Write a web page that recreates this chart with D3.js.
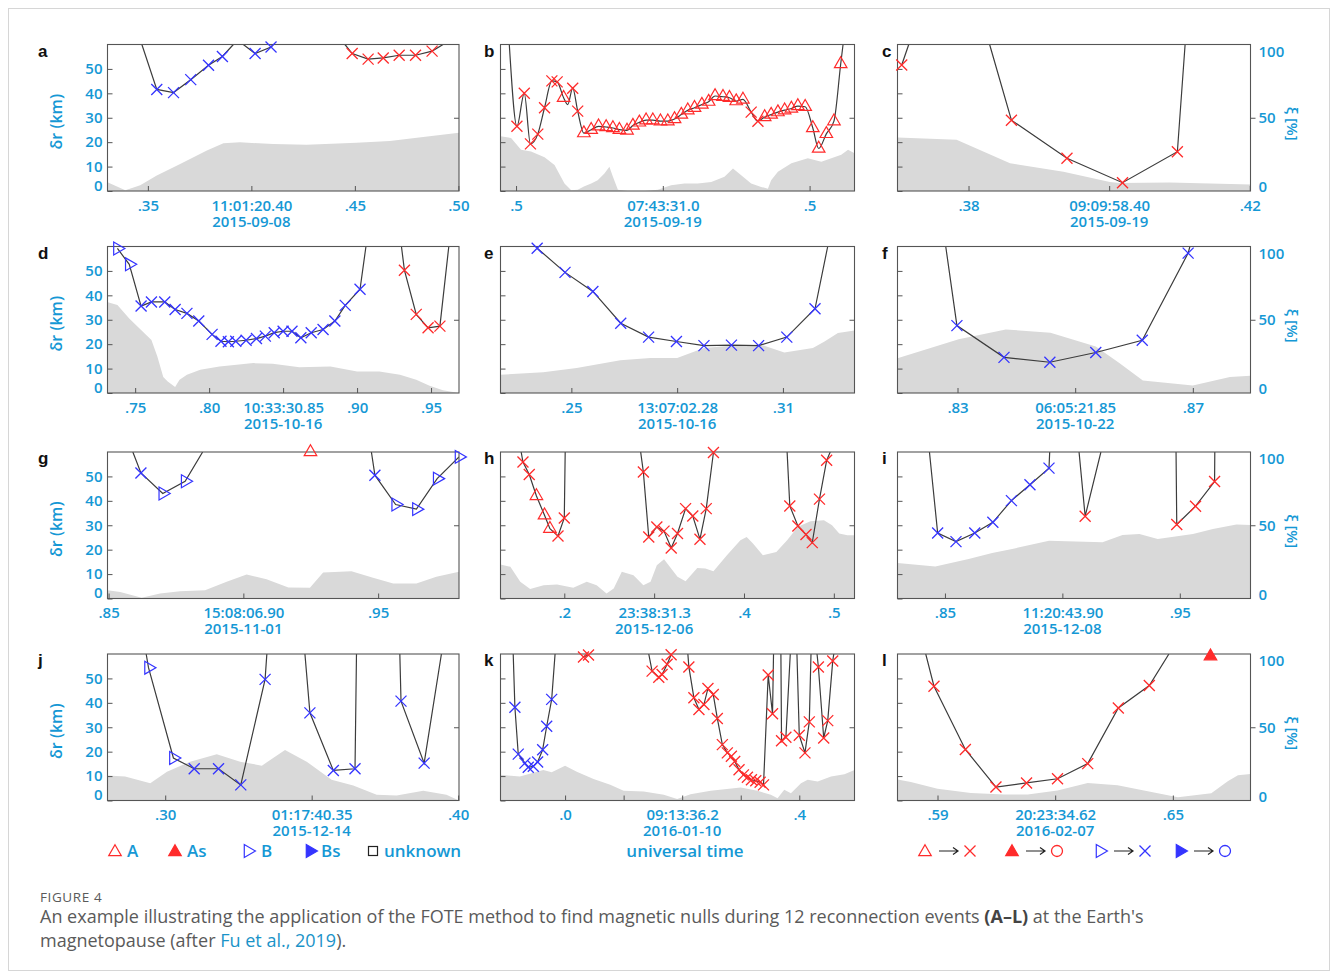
<!DOCTYPE html>
<html><head><meta charset="utf-8">
<script src="https://cdn.jsdelivr.net/npm/d3@7"></script>
<style>body{margin:0;background:#fff}svg{display:block}</style>
</head><body><svg id="c" width="1331" height="974"></svg>
<script>
// ---------------- DATA ----------------
// each line point: [time (s), δr (km), marker]; ξ area: [time (s), ξ (%)]
const aDomain=[0.3305,0.5003], aTicks=[0.35,0.40,0.45,0.50], aTickText=[".35","11:01:20.40",".45",".50"], aDate="2015-09-08";
const aLines=[
 [[0.3471,60,""],[0.3543,41.6,"bx"],[0.3624,40.3,"bx"],[0.3707,45.6,"bx"],[0.3793,51.5,"bx"],[0.3860,55.1,"bx"],[0.3913,60,""]],
 [[0.3961,60,""],[0.4018,56.3,"bx"],[0.4095,59.0,"bx"],[0.4106,60,""]],
 [[0.4452,60,""],[0.4487,56.3,"rx"],[0.4564,54.0,"rx"],[0.4637,54.5,"rx"],[0.4714,55.6,"rx"],[0.4793,55.6,"rx"],[0.4873,57.3,"rx"],[0.4926,60,""]]];
const aXi=[[0.3305,6],[0.3391,0.5],[0.3463,4],[0.3543,10.5],[0.3656,18.5],[0.3785,27.6],[0.3865,32.6],[0.3945,33.3],[0.4106,32],[0.4267,31.5],[0.4508,32.9],[0.4669,34.2],[0.4830,36.8],[0.5003,39.7]];

const bDomain=[30.447,31.653], bTicks=[30.5,31.0,31.5], bTickText=[".5","07:43:31.0",".5"], bDate="2015-09-19";
const bLines=[[[30.477,60,""],[30.503,26.5,"rx"],[30.528,40.0,"rx"],[30.549,19.3,"rx"],[30.574,23.3,"rx"],[30.597,34.1,"rx"],[30.622,45.1,"rx"],[30.640,44.7,"rx"],[30.662,38.2,"A"],[30.676,35.4,""],[30.693,42.1,"rx"],[30.710,32.7,"rx"],[30.731,23.7,"A"],[30.756,25.1,"A"],[30.781,26.5,"A"],[30.807,26.2,"A"],[30.830,25.8,"A"],[30.852,25.1,"A"],[30.878,24.8,"A"],[30.898,26.8,"A"],[30.920,28.1,"A"],[30.943,29.0,"A"],[30.966,29.0,"A"],[30.992,28.6,"A"],[31.017,28.6,"A"],[31.040,29.5,"A"],[31.063,31.3,"A"],[31.085,33.1,"A"],[31.108,34.1,"A"],[31.133,35.4,"A"],[31.156,36.6,"A"],[31.178,38.9,"A"],[31.205,38.6,"A"],[31.227,38.2,"A"],[31.250,36.8,"A"],[31.273,37.5,"A"],[31.301,32.3,"rx"],[31.324,28.6,"rx"],[31.347,30.3,"A"],[31.369,31.3,"A"],[31.392,32.3,"A"],[31.415,33.1,"A"],[31.438,33.8,"A"],[31.460,34.8,"A"],[31.485,34.5,"A"],[31.511,25.8,"A"],[31.531,17.4,"A"],[31.557,23.4,"A"],[31.583,28.6,"A"],[31.606,52.0,"A"],[31.614,60,""]]];
const bXi=[[30.447,37.3],[30.483,36.2],[30.517,28.1],[30.551,27.0],[30.597,23.0],[30.631,17.7],[30.665,5.1],[30.688,0.5],[30.710,0.9],[30.733,3.2],[30.756,5.1],[30.778,7.4],[30.801,12.0],[30.818,16.6],[30.830,9.7],[30.847,0.9],[30.881,0],[30.938,0],[30.983,0.9],[31.028,3.9],[31.074,5.1],[31.119,5.1],[31.165,6.2],[31.210,9.7],[31.239,15.4],[31.267,10.8],[31.301,5.1],[31.335,2.8],[31.358,1.6],[31.369,7.4],[31.392,13.1],[31.438,18.9],[31.494,22.4],[31.540,20.0],[31.574,22.4],[31.608,24.7],[31.631,28.1],[31.653,25.8]];

const cDomain=[58.3699,58.4201], cTicks=[58.38,58.40,58.42], cTickText=[".38","09:09:58.40",".42"], cDate="2015-09-19";
const cLines=[[[58.3705,51.6,"rx"],[58.3715,60,""]],
 [[58.3830,60,""],[58.3861,29.0,"rx"],[58.3940,13.4,"rx"],[58.4019,3.4,"rx"],[58.4097,16.1,"rx"],[58.4108,60,""]]];
const cXi=[[58.3699,36.6],[58.3783,35.0],[58.3859,18.9],[58.3935,13.1],[58.4001,6.2],[58.4015,5.5],[58.4086,5.8],[58.4201,4.4]];

const dDomain=[30.7313,30.9689], dTicks=[30.75,30.80,30.85,30.90,30.95], dTickText=[".75",".80","10:33:30.85",".90",".95"], dDate="2015-10-16";
const dLines=[[[30.738,59.2,"B"],[30.746,52.7,"B"],[30.754,35.6,"bx"],[30.761,37.3,"bx"],[30.770,37.3,"bx"],[30.777,34.2,"bx"],[30.785,32.6,"bx"],[30.793,29.5,"bx"],[30.802,24.0,"bx"],[30.808,21.2,"bx"],[30.813,21.0,"bx"],[30.818,21.2,"bx"],[30.825,21.6,"bx"],[30.832,22.3,"bx"],[30.838,23.3,"bx"],[30.844,24.7,"bx"],[30.850,25.3,"bx"],[30.856,25.3,"bx"],[30.862,22.6,"bx"],[30.869,24.7,"bx"],[30.877,26.0,"bx"],[30.885,29.5,"bx"],[30.892,35.9,"bx"],[30.902,42.5,"bx"],[30.906,60,""]],
 [[30.930,60,""],[30.932,50.3,"rx"],[30.940,32.2,"rx"],[30.948,26.7,"rx"],[30.956,27.4,"rx"],[30.962,60,""]]];
const dXi=[[30.731,62.2],[30.738,60.0],[30.746,50.9],[30.754,43.0],[30.761,36.2],[30.765,24.9],[30.769,10.9],[30.772,7.9],[30.777,4.1],[30.780,9.0],[30.785,12.4],[30.794,15.8],[30.807,18.1],[30.830,20.4],[30.843,19.9],[30.861,17.6],[30.882,18.1],[30.900,14.7],[30.915,14.7],[30.929,12.4],[30.940,9.0],[30.949,5.0],[30.958,1.8],[30.969,0]];

const eDomain=[2.2299,2.3303], eTicks=[2.25,2.28,2.31], eTickText=[".25","13:07:02.28",".31"], eDate="2015-10-16";
const eLines=[[[2.2403,59.3,"bx"],[2.2482,49.4,"bx"],[2.2561,41.6,"bx"],[2.2640,28.6,"bx"],[2.2719,22.9,"bx"],[2.2798,21.1,"bx"],[2.2876,19.4,"bx"],[2.2954,19.6,"bx"],[2.3031,19.4,"bx"],[2.3111,22.9,"bx"],[2.3191,34.5,"bx"],[2.3227,60,""]]];
const eXi=[[2.2299,12.5],[2.2420,14.1],[2.2515,17.0],[2.2639,22.3],[2.2724,23.9],[2.2800,23.9],[2.2876,30.7],[2.2952,32.3],[2.3037,33.0],[2.3104,27.7],[2.3185,30.7],[2.3218,35.2],[2.3256,40.9],[2.3303,42.7]];

const fDomain=[21.8198,21.8798], fTicks=[21.83,21.85,21.87], fTickText=[".83","06:05:21.85",".87"], fDate="2015-10-22";
const fLines=[[[21.8280,60,""],[21.8299,27.6,"bx"],[21.8379,14.6,"bx"],[21.8457,12.6,"bx"],[21.8535,16.6,"bx"],[21.8614,21.6,"bx"],[21.8692,57.3,"bx"],[21.8695,60,""]]];
const fXi=[[21.8198,23.8],[21.8302,36.7],[21.8382,43.4],[21.8458,41.2],[21.8535,31.7],[21.8575,20.4],[21.8615,8.6],[21.8700,5.2],[21.8763,10.9],[21.8798,11.8]];

const gDomain=[6.8496,6.98], gTicks=[6.85,6.90,6.95], gTickText=[".85","15:08:06.90",".95"], gDate="2015-11-01";
const gLines=[[[6.8590,60,""],[6.8620,51.4,"bx"],[6.8701,43.0,"B"],[6.8784,48.0,"B"],[6.8849,60,""]],
 [[6.9475,60,""],[6.9488,50.5,"bx"],[6.9565,38.5,"B"],[6.9642,36.6,"B"],[6.9719,49.1,"B"],[6.9800,58.0,"B"]]];
const gSingles=[[6.9249,60,"A"]];
const gXi=[[6.8496,5.7],[6.8543,4.5],[6.8623,0.5],[6.8691,3.4],[6.8765,5.0],[6.8858,5.7],[6.8938,11.4],[6.9012,16.4],[6.9086,13.2],[6.9167,7.5],[6.9247,7.3],[6.9296,17.7],[6.9401,18.6],[6.9481,14.1],[6.9556,10.2],[6.9642,10.2],[6.9716,14.8],[6.9800,18.2]];

const hDomain=[31.129,31.523], hTicks=[31.2,31.3,31.4,31.5], hTickText=[".2","23:38:31.3",".4",".5"], hDate="2015-12-06";
const hLines=[[[31.152,60,""],[31.154,55.9,"rx"],[31.161,50.8,"rx"],[31.169,42.0,"A"],[31.178,34.1,"A"],[31.184,28.6,"A"],[31.193,25.6,"rx"],[31.200,33.0,"rx"],[31.201,60,""]],
 [[31.285,60,""],[31.288,51.8,"rx"],[31.294,25.2,"rx"],[31.303,29.3,"rx"],[31.311,27.6,"rx"],[31.319,20.7,"rx"],[31.326,26.6,"rx"],[31.335,36.8,"rx"],[31.343,33.8,"rx"],[31.351,24.3,"rx"],[31.358,36.8,"rx"],[31.366,59.8,"rx"]],
 [[31.448,60,""],[31.451,37.9,"rx"],[31.460,29.7,"rx"],[31.469,26.2,"rx"],[31.476,22.9,"rx"],[31.484,40.7,"rx"],[31.492,56.6,"rx"],[31.496,60,""]]];
const hXi=[[31.129,23.2],[31.140,21.6],[31.151,11.4],[31.162,6.4],[31.177,9.1],[31.192,9.5],[31.210,7.3],[31.225,11.4],[31.236,9.1],[31.247,3.4],[31.255,6.8],[31.264,18.2],[31.277,15.9],[31.288,9.1],[31.296,11.4],[31.303,22.7],[31.311,26.8],[31.326,14.8],[31.335,11.8],[31.348,20.9],[31.357,20.5],[31.366,18.6],[31.381,29.5],[31.396,39.8],[31.403,42.0],[31.410,37.5],[31.421,29.5],[31.436,31.8],[31.448,39.8],[31.460,48.9],[31.474,52.7],[31.489,53.4],[31.498,50.0],[31.506,44.3],[31.515,43.2],[31.523,43.2]];

const iDomain=[43.8298,43.9801], iTicks=[43.85,43.90,43.95], iTickText=[".85","11:20:43.90",".95"], iDate="2015-12-08";
const iLines=[[[43.8434,60,""],[43.8469,26.8,"bx"],[43.8547,23.3,"bx"],[43.8627,26.8,"bx"],[43.8704,31.2,"bx"],[43.8783,40.1,"bx"],[43.8862,46.6,"bx"],[43.8943,53.4,"bx"],[43.8946,60,""]],
 [[43.9071,60,""],[43.9097,33.7,"rx"],[43.9164,60,""]],
 [[43.9484,60,""],[43.9487,30.3,"rx"],[43.9567,37.8,"rx"],[43.9648,47.9,"rx"],[43.9649,60,""]]];
const iXi=[[43.8298,24.2],[43.8459,21.9],[43.8601,26.9],[43.8701,31.1],[43.8786,33.8],[43.8943,39.5],[43.9171,38.4],[43.9256,43.4],[43.9328,44.1],[43.9406,40.6],[43.9556,44.1],[43.9641,47.5],[43.9741,50.5],[43.9801,50.2]];

const jDomain=[40.2803,40.4003], jTicks=[40.30,40.35,40.40], jTickText=[".30","01:17:40.35",".40"], jDate="2015-12-14";
const jLines=[[[40.2935,60,""],[40.2943,54.4,"B"],[40.3028,17.4,"B"],[40.3099,13.0,"bx"],[40.3182,13.0,"bx"],[40.3258,6.4,"bx"],[40.3341,49.6,"bx"],[40.3347,60,""]],
 [[40.3477,60,""],[40.3494,35.9,"bx"],[40.3574,12.3,"bx"],[40.3648,13.0,"bx"],[40.3653,60,""]],
 [[40.3801,60,""],[40.3805,40.7,"bx"],[40.3884,15.3,"bx"],[40.3943,60,""]]];
const jXi=[[40.2803,17.0],[40.2863,16.3],[40.2949,11.8],[40.3006,19.7],[40.3085,26.5],[40.3176,31.5],[40.3256,26.5],[40.3330,23.8],[40.3409,34.5],[40.3483,26.5],[40.3568,14.1],[40.3642,10.2],[40.3722,3.9],[40.3790,3.4],[40.3881,6.6],[40.3960,3.9],[40.4003,0]];

const kDomain=[35.8897,36.4943], kTicks=[36.0,36.1,36.2,36.3,36.4], kTickText=[".0","","09:13:36.2","",".4"], kDate="2016-01-10";
const kLines=[[[35.9114,60,""],[35.9143,38.2,"bx"],[35.9200,19.0,"bx"],[35.9314,15.3,"bx"],[35.9371,13.6,"bx"],[35.9457,14.0,"bx"],[35.9531,15.8,"bx"],[35.9617,20.8,"bx"],[35.9686,30.4,"bx"],[35.9771,41.4,"bx"],[35.9829,60,""]],
 [[36.0314,58.8,"rx"],[36.0400,59.6,"rx"]],
 [[36.1429,60,""],[36.1486,53.0,"rx"],[36.1600,50.5,"rx"],[36.1657,51.6,"rx"],[36.1743,55.8,"rx"],[36.1811,59.7,"rx"]],
 [[36.2097,60,""],[36.2114,54.7,"rx"],[36.2200,42.1,"rx"],[36.2286,37.3,"rx"],[36.2371,39.3,"rx"],[36.2440,45.9,"rx"],[36.2531,43.4,"rx"],[36.2600,33.6,"rx"],[36.2686,22.9,"rx"],[36.2771,19.5,"rx"],[36.2840,18.1,"rx"],[36.2897,16.0,"rx"],[36.2971,12.6,"rx"],[36.3046,10.5,"rx"],[36.3114,9.5,"rx"],[36.3183,8.5,"rx"],[36.3257,8.1,"rx"],[36.3331,7.5,"rx"],[36.3389,6.4,"rx"],[36.3469,51.4,"rx"],[36.3543,35.5,"rx"],[36.3560,60,""]],
 [[36.3686,60,""],[36.3697,24.5,"rx"],[36.3771,25.9,"rx"],[36.3846,60,""]],
 [[36.3960,60,""],[36.4000,26.7,"rx"],[36.4097,19.5,"rx"],[36.4171,32.2,"rx"],[36.4200,60,""]],
 [[36.4303,60,""],[36.4326,54.7,"rx"],[36.4417,25.6,"rx"],[36.4486,32.7,"rx"],[36.4571,57.1,"rx"],[36.4589,60,""]]];
const kXi=[[35.8897,17.5],[35.9229,16.3],[35.9629,20.9],[35.9771,19.3],[36.0000,23.8],[36.0200,19.7],[36.0486,14.7],[36.0771,10.7],[36.1000,6.6],[36.1343,6.1],[36.1686,3.9],[36.1914,1.1],[36.2143,4.3],[36.2486,6.6],[36.3000,8.8],[36.3286,6.6],[36.3514,3.9],[36.3629,1.6],[36.3743,7.3],[36.3857,5.0],[36.4029,11.8],[36.4143,14.1],[36.4314,12.9],[36.4543,16.3],[36.4771,17.9],[36.4943,20.9]];

const lDomain=[34.5798,34.6698], lTicks=[34.59,34.62,34.65], lTickText=[".59","20:23:34.62",".65"], lDate="2016-02-07";
const lLines=[[[34.5870,60,""],[34.5891,46.8,"rx"],[34.5971,20.9,"rx"],[34.6049,5.5,"rx"],[34.6127,7.2,"rx"],[34.6206,8.9,"rx"],[34.6283,15.1,"rx"],[34.6361,37.9,"rx"],[34.6440,47.1,"rx"],[34.6490,60,""]]];
const lSingles=[[34.6596,59.1,"As"]];
const lXi=[[34.5798,14.3],[34.5832,12.7],[34.5900,8.1],[34.5985,5.2],[34.6070,4.1],[34.6130,4.1],[34.6206,6.8],[34.6283,12.0],[34.6359,10.4],[34.6436,6.3],[34.6513,2.3],[34.6598,5.0],[34.6640,13.1],[34.6666,17.2],[34.6698,18.1]];

const kmTicks=[0,10,20,30,40,50], xiTicks=[0,50,100];
const legendKeys=["A","As","B","Bs","unknown"];
const transitionFrom=["A","As","B","Bs"], transitionTo=["rx","ro","bx","bo"];
const captionTitle="FIGURE 4";

// ---------------- DRAW ----------------
const RED="#ff2b2b", BLUE="#3434ff", TXT="#1598d5", FONT="'Open Sans','Noto Sans',sans-serif";
const svg=d3.select("#c");
svg.append("rect").attr("x",8.5).attr("y",8.5).attr("width",1321).attr("height",962).attr("fill","none").attr("stroke","#d6d6d6");

const colX=[[107.5,459],[500.5,854.5],[897.5,1250.5]];
const rowY=[[44.5,191],[246.5,393],[452,598.5],[654,800.5]];
const letterX=[38,484,882];

const panels=[
 {id:"a",domain:aDomain,ticks:aTicks,tt:aTickText,date:aDate,lines:aLines,xi:aXi,singles:[]},
 {id:"b",domain:bDomain,ticks:bTicks,tt:bTickText,date:bDate,lines:bLines,xi:bXi,singles:[],smooth:true},
 {id:"c",domain:cDomain,ticks:cTicks,tt:cTickText,date:cDate,lines:cLines,xi:cXi,singles:[]},
 {id:"d",domain:dDomain,ticks:dTicks,tt:dTickText,date:dDate,lines:dLines,xi:dXi,singles:[]},
 {id:"e",domain:eDomain,ticks:eTicks,tt:eTickText,date:eDate,lines:eLines,xi:eXi,singles:[]},
 {id:"f",domain:fDomain,ticks:fTicks,tt:fTickText,date:fDate,lines:fLines,xi:fXi,singles:[]},
 {id:"g",domain:gDomain,ticks:gTicks,tt:gTickText,date:gDate,lines:gLines,xi:gXi,singles:gSingles},
 {id:"h",domain:hDomain,ticks:hTicks,tt:hTickText,date:hDate,lines:hLines,xi:hXi,singles:[]},
 {id:"i",domain:iDomain,ticks:iTicks,tt:iTickText,date:iDate,lines:iLines,xi:iXi,singles:[]},
 {id:"j",domain:jDomain,ticks:jTicks,tt:jTickText,date:jDate,lines:jLines,xi:jXi,singles:[]},
 {id:"k",domain:kDomain,ticks:kTicks,tt:kTickText,date:kDate,lines:kLines,xi:kXi,singles:[]},
 {id:"l",domain:lDomain,ticks:lTicks,tt:lTickText,date:lDate,lines:lLines,xi:lXi,singles:lSingles}
];

function marker(g,type,cx,cy){
  if(type==="rx"||type==="bx"){
    const r=5.5,c=type==="rx"?RED:BLUE;
    g.append("path").attr("d",`M${cx-r},${cy-r}L${cx+r},${cy+r}M${cx-r},${cy+r}L${cx+r},${cy-r}`)
     .attr("stroke",c).attr("stroke-width",1.3).attr("fill","none");
  } else if(type==="ro"||type==="bo"){
    g.append("circle").attr("cx",cx).attr("cy",cy).attr("r",5.5).attr("fill","none")
     .attr("stroke",type==="ro"?RED:BLUE).attr("stroke-width",1.3);
  } else {
    const isA=type[0]==="A", filled=type.length>1, c=isA?RED:BLUE;
    g.append("path").attr("d",d3.symbol(d3.symbolTriangle,isA?68:72)())
     .attr("transform",`translate(${cx},${cy}) rotate(${isA?0:90})`)
     .attr("fill",filled?c:"none").attr("stroke",c).attr("stroke-width",1.2);
  }
}

panels.forEach((p,idx)=>{
  const row=Math.floor(idx/3), col=idx%3;
  const [x0,x1]=colX[col], [y0,y1]=rowY[row];
  const x=d3.scaleLinear().domain(p.domain).range([x0,x1]);
  const y=d3.scaleLinear().domain([0,60]).range([y1,y0]);
  const yp=d3.scaleLinear().domain([0,100]).range([y1,y0]);
  const g=svg.append("g");
  const cid="clip"+p.id;
  svg.append("clipPath").attr("id",cid).append("rect").attr("x",x0).attr("y",y0).attr("width",x1-x0).attr("height",y1-y0);
  const inner=g.append("g").attr("clip-path",`url(#${cid})`);
  inner.append("path").datum(p.xi)
    .attr("d",d3.area().x(d=>x(d[0])).y0(y1).y1(d=>yp(d[1])))
    .attr("fill","#d9d9d9");
  const line=d3.line().x(d=>x(d[0])).y(d=>y(d[1])).curve(p.smooth?d3.curveMonotoneX:d3.curveLinear);
  p.lines.forEach(seg=>{
    inner.append("path").datum(seg).attr("d",line).attr("fill","none").attr("stroke","#3c3c3c").attr("stroke-width",1.2);
  });
  // axes
  const ax=g.append("g").attr("transform",`translate(0,${y1})`)
    .call(d3.axisBottom(x).tickValues(p.ticks).tickSize(-5).tickPadding(9).tickFormat((d,i)=>p.tt[i]));
  const ay=g.append("g").attr("transform",`translate(${x0},0)`)
    .call(d3.axisLeft(y).tickValues(kmTicks).tickSize(-5).tickPadding(5).tickFormat(col===0?d3.format("d"):""));
  ay.selectAll(".tick").filter(d=>d===0).select("text").attr("dy","-0.05em");
  if(col===2){
    const ar=g.append("g").attr("transform",`translate(${x1},0)`)
      .call(d3.axisRight(yp).tickValues(xiTicks).tickSize(5).tickPadding(3));
    ar.selectAll(".tick").filter(d=>d!==50).select("line").remove();
    ar.selectAll(".tick").filter(d=>d===100).select("text").attr("dy","0.78em");
    ar.selectAll(".tick").filter(d=>d===0).select("text").attr("dy","0.05em");
    g.append("text").attr("transform",`translate(${x1+36},${(y0+y1)/2+6}) rotate(90)`)
      .attr("text-anchor","middle").attr("fill",TXT).attr("font-family",FONT).attr("font-weight",600).attr("font-size",15)
      .text("ξ [%]");
  } else {
    g.append("g").attr("transform",`translate(${x1},0)`)
      .call(d3.axisRight(yp).tickValues([50]).tickSize(-5).tickFormat(""));
  }
  [ax,ay,g].forEach(s=>{
    s.selectAll(".domain").remove();
    s.selectAll(".tick line").attr("stroke","#555").attr("stroke-width",1);
    s.selectAll(".tick text").attr("fill",TXT).attr("font-family",FONT).attr("font-weight",600).attr("font-size",15);
  });
  g.append("rect").attr("x",x0).attr("y",y0).attr("width",x1-x0).attr("height",y1-y0)
    .attr("fill","none").attr("stroke","#555").attr("stroke-width",1.1);
  // markers
  const mg=g.append("g");
  p.lines.forEach(seg=>seg.forEach(d=>{ if(d[2]) marker(mg,d[2],x(d[0]),y(d[1])); }));
  p.singles.forEach(d=>marker(mg,d[2],x(d[0]),y(d[1])));
  // date
  const mi=p.tt.findIndex(t=>t.includes(":"));
  g.append("text").attr("x",x(p.ticks[mi])).attr("y",y1+35.5).attr("text-anchor","middle")
    .attr("fill",TXT).attr("font-family",FONT).attr("font-weight",600).attr("font-size",15).text(p.date);
  if(col===0){
    g.append("text").attr("transform",`translate(62,${(y0+y1)/2+4}) rotate(-90)`).attr("text-anchor","middle")
      .attr("fill",TXT).attr("font-family",FONT).attr("font-weight",600).attr("font-size",16).text("δr (km)");
  }
  g.append("text").attr("x",letterX[col]).attr("y",y0+12).attr("font-family","'Liberation Sans',Arial,sans-serif")
    .attr("font-weight","bold").attr("font-size",17).attr("fill","#111").text(p.id);
});

// ---------------- LEGENDS ----------------
const LY=851;
const leg=svg.append("g");
const legSym=[[115,"A"],[175,"As"],[248,"B"],[310,"Bs"]];
legSym.forEach(([cx,t])=>marker(leg,t,cx,LY+(t[0]==="A"?1:0)));
leg.append("rect").attr("x",368.5).attr("y",LY-4.5).attr("width",9).attr("height",9).attr("fill","none").attr("stroke","#222").attr("stroke-width",1.2);
const legTX=[127,187,261,321,384];
legendKeys.forEach((k,i)=>leg.append("text").attr("x",legTX[i]).attr("y",LY+6).attr("fill",TXT)
  .attr("font-family",FONT).attr("font-weight",600).attr("font-size",17).text(k));
leg.append("text").attr("x",685).attr("y",LY+6).attr("text-anchor","middle").attr("fill",TXT)
  .attr("font-family",FONT).attr("font-weight",600).attr("font-size",17).text("universal time");
const trX=[925,1012,1100,1180];
transitionFrom.forEach((t,i)=>{
  const cx=trX[i];
  marker(leg,t,cx,LY+(t[0]==="A"?1:0));
  const a0=cx+14,a1=cx+33;
  leg.append("path").attr("d",`M${a0},${LY}L${a1},${LY}M${a1-5},${LY-3.5}L${a1},${LY}L${a1-5},${LY+3.5}`)
    .attr("stroke","#222").attr("stroke-width",1.2).attr("fill","none");
  marker(leg,transitionTo[i],cx+45,LY);
});

// ---------------- CAPTION ----------------
svg.append("text").attr("x",40).attr("y",902).attr("font-family",FONT).attr("font-size",13.5)
  .attr("letter-spacing",0.6).attr("fill","#5a5a5a").text(captionTitle);
const c1=svg.append("text").attr("x",40).attr("y",922.5).attr("font-family",FONT).attr("font-size",18).attr("fill","#5a5a5a");
c1.append("tspan").text("An example illustrating the application of the FOTE method to find magnetic nulls during 12 reconnection events ");
c1.append("tspan").attr("font-weight",700).attr("fill","#444").text("(A–L)");
c1.append("tspan").text(" at the Earth's");
const c2=svg.append("text").attr("x",40).attr("y",946.5).attr("font-family",FONT).attr("font-size",18).attr("fill","#5a5a5a");
c2.append("tspan").text("magnetopause (after ");
c2.append("tspan").attr("fill","#1a93c8").text("Fu et al., 2019");
c2.append("tspan").text(").");
</script></body></html>
